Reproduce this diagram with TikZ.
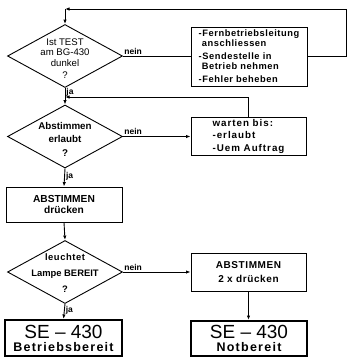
\documentclass[tikz,border=0pt]{standalone}
\usepackage{fontspec}
\setmainfont{Liberation Sans}
\newfontfamily\spaced[LetterSpace=6]{Liberation Sans}
\newfontfamily\wide[LetterSpace=10]{Liberation Sans}
\usetikzlibrary{shapes.geometric,arrows.meta}

\begin{document}
\begin{tikzpicture}[x=1pt,y=-1pt,
  line width=0.9pt,
  decision/.style={draw, diamond, minimum width=115pt, minimum height=63pt, inner sep=0pt},
  box/.style={draw, rectangle, inner sep=0pt},
  endbox/.style={draw, rectangle, line width=2pt, inner sep=0pt},
  arr/.style={-{Latex[length=4.5pt,width=3.4pt]}},
  lbl/.style={font=\bfseries\fontsize{8.5}{9}\selectfont, inner sep=1pt},
  dtext/.style={align=center, inner sep=0pt}
]
\useasboundingbox (0,0) rectangle (350,357);

% decisions
\node[decision] (d1) at (65,56) {};
\node[dtext, font=\fontsize{9.6}{10.5}\selectfont] (t1) at (65,58.5) {Ist TEST\\am BG-430\\dunkel\\[1.5pt]?};
\node[decision] (d2) at (65,136.5) {};
\node[dtext, font=\bfseries\fontsize{9.8}{12.5}\selectfont] (t2) at (65,139.5) {Abstimmen\\erlaubt\\[2pt]?};
\node[decision] (d3) at (65,272) {};
\node[dtext, font=\bfseries\fontsize{9.4}{15.5}\selectfont] (t3) at (65,273.5) {\spaced leuchtet\\Lampe BEREIT\\[1pt]?};

% action boxes
\node[box, minimum width=116pt, minimum height=59pt, align=left,
      font=\spaced\bfseries\fontsize{9.3}{9.8}\selectfont] (b1) at (249,56.5)
  {-Fernbetriebsleitung\\\phantom{-}anschliessen\\[3.5pt]-Sendestelle in\\\phantom{-}Betrieb nehmen\\[3.5pt]-Fehler beheben};
\node[box, minimum width=115pt, minimum height=38pt, align=left,
      font=\wide\bfseries\fontsize{9.8}{12.5}\selectfont] (bw) at (248.5,136)
  {warten bis:\\-erlaubt\\-Uem Auftrag};
\node[box, minimum width=116pt, minimum height=35pt, align=center,
      font=\bfseries\fontsize{10.2}{11.5}\selectfont] (ba) at (64,204.5)
  {ABSTIMMEN\\drücken};
\node[box, minimum width=115pt, minimum height=38pt, align=center,
      font=\spaced\bfseries\fontsize{10}{14}\selectfont] (b2x) at (248.5,272)
  {ABSTIMMEN\\2 x drücken};

% final states
\node[endbox, minimum width=117pt, minimum height=36pt, align=center] (e1) at (63.5,338)
  {\fontsize{19}{19}\selectfont SE -- 430\\[1pt]{\wide\bfseries\fontsize{12.5}{13}\selectfont Betriebsbereit}};
\node[endbox, minimum width=116pt, minimum height=35pt, align=center] (e2) at (249,338.5)
  {\fontsize{19}{19}\selectfont SE -- 430\\[1pt]{\wide\bfseries\fontsize{12.5}{13}\selectfont Notbereit}};

% loop points
\coordinate (rc) at (346,9);
\coordinate (tj) at (65,9);
\coordinate (mj) at (65,97);

% connectors
\draw[arr] (b1.east) -| (rc) -- (tj);
\draw[arr] (tj) -- (d1.north);
\draw (d1.east) -- (d1.east -| b1.west);
\node[lbl, anchor=south west] (n1) at (d1.east) {nein};
\draw[arr] (d1.south) -- node[lbl, pos=0.25, right] (j1) {ja} (d2.north);
\draw[arr] (bw.north) |- (mj);
\draw[arr] (d2.east) -- (d2.east -| bw.west);
\node[lbl, anchor=south west] (n2) at (d2.east) {nein};
\draw[arr] (d2.south) -- node[lbl, pos=0.42, right] (j2) {ja} (ba.north);
\draw[arr] (ba.south) -- (d3.north);
\draw[arr] (d3.east) -- (d3.east -| b2x.west);
\node[lbl, anchor=south west] (n3) at (d3.east) {nein};
\draw[arr] (d3.south) -- node[lbl, pos=0.45, right] (j3) {ja} (e1.north);
\draw[arr] (b2x.south) -- (b2x.south |- e2.north);
\end{tikzpicture}
\end{document}
